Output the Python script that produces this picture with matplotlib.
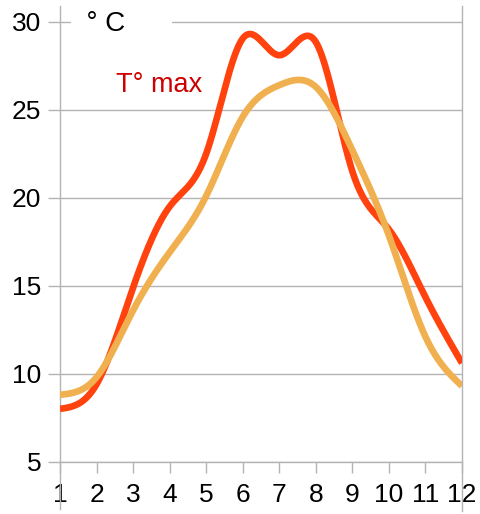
import numpy as np
import matplotlib.pyplot as plt

# mois et températures
mois = [1, 2, 3, 4, 5, 6, 7, 8, 9, 10, 11, 12]
t_max = [8.0, 9.4, 14.9, 19.5, 22.5, 29.05, 28.1, 28.85, 21.5, 18.2, 14.35, 10.6]
t_moy = [8.8, 9.8, 13.6, 16.9, 20.1, 24.6, 26.4, 26.3, 22.7, 17.85, 12.1, 9.3]
graduations_y = [5, 10, 15, 20, 25, 30]


def spline_naturelle(x, y, n=400):
    # spline cubique naturelle (comme le lissage du tableur)
    x = np.asarray(x, float)
    y = np.asarray(y, float)
    k = len(x)
    h = np.diff(x)
    A = np.zeros((k, k))
    b = np.zeros(k)
    A[0, 0] = 1
    A[-1, -1] = 1
    for i in range(1, k - 1):
        A[i, i - 1] = h[i - 1]
        A[i, i] = 2 * (h[i - 1] + h[i])
        A[i, i + 1] = h[i]
        b[i] = 6 * ((y[i + 1] - y[i]) / h[i] - (y[i] - y[i - 1]) / h[i - 1])
    M = np.linalg.solve(A, b)
    xs = np.linspace(x[0], x[-1], n)
    idx = np.clip(np.searchsorted(x, xs) - 1, 0, k - 2)
    x0, x1 = x[idx], x[idx + 1]
    hh = x1 - x0
    t0 = x1 - xs
    t1 = xs - x0
    ys = (M[idx] * t0**3 + M[idx + 1] * t1**3) / (6 * hh) \
        + (y[idx] / hh - M[idx] * hh / 6) * t0 \
        + (y[idx + 1] / hh - M[idx + 1] * hh / 6) * t1
    return xs, ys


plt.rcParams['font.family'] = ['Liberation Sans', 'DejaVu Sans']

fig = plt.figure(figsize=(4.8, 5.14), dpi=100)
ax = fig.add_axes([0.125, 0.1018, 0.8375, 0.8866])

gris = '#b3b3b3'
ax.set_xlim(1, 12)
ax.set_ylim(5, 30.9)
ax.set_xticks(mois)
ax.set_yticks(graduations_y)
ax.grid(axis='y', color=gris, linewidth=1.0)
ax.set_axisbelow(True)

for cote in ['left', 'right', 'bottom']:
    ax.spines[cote].set_color(gris)
    ax.spines[cote].set_linewidth(1.0)
ax.spines['top'].set_visible(False)
# les axes verticaux descendent jusque sous les étiquettes
ax.spines['left'].set_bounds(2.3, 30.9)
ax.spines['right'].set_bounds(2.2, 30.9)
ax.tick_params(axis='both', direction='out', width=1.0, color=gris,
               labelsize=19, labelcolor='black')
ax.tick_params(axis='y', length=8.6, pad=5)
ax.tick_params(axis='x', length=7.6, pad=8)

xs, ys = spline_naturelle(mois, t_max)
ax.plot(xs, ys, color='#ff420e', linewidth=4.8, solid_capstyle='butt', zorder=3)
xs, ys = spline_naturelle(mois, t_moy)
ax.plot(xs, ys, color='#f0b04f', linewidth=4.8, solid_capstyle='butt', zorder=4)

ax.text(1.3, 29.85, '  ° C      ', fontsize=20, color='black',
        ha='left', va='center',
        bbox=dict(facecolor='white', edgecolor='none', pad=0))
ax.text(2.53, 26.4, 'T° max', fontsize=19.5, color='#cc0000',
        ha='left', va='center')

fig.savefig('out.png', dpi=100)
